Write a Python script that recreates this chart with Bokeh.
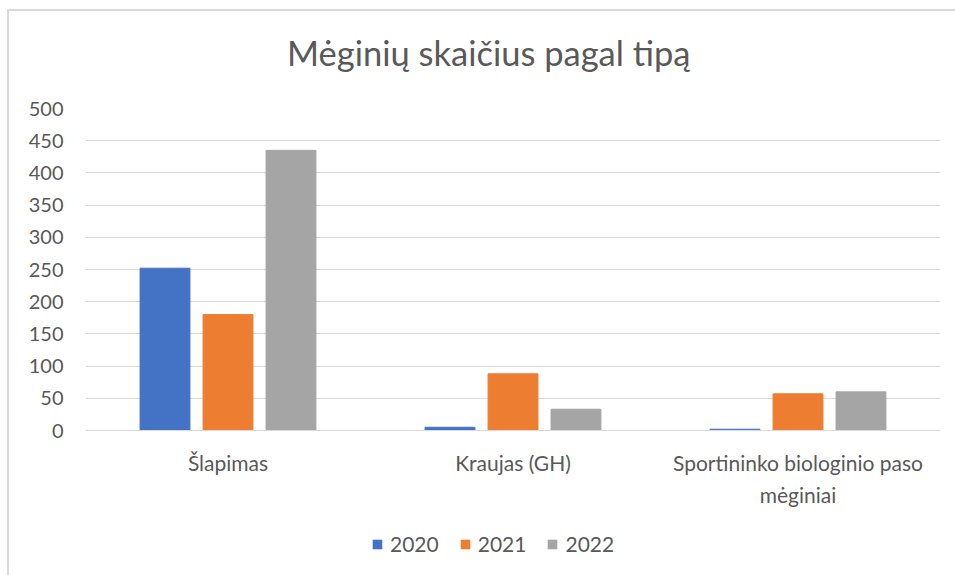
from bokeh.plotting import figure
from bokeh.models import ColumnDataSource, FactorRange, Range1d, FixedTicker, Legend, LegendItem, Div
from bokeh.layouts import column
from bokeh.transform import dodge
from bokeh.embed import file_html
from bokeh.resources import INLINE

categories = ["Šlapimas", "Kraujas (GH)", "Sportininko biologinio paso\nmėginiai"]
series = ["2020", "2021", "2022"]
v2020 = [252, 5, 2]
v2021 = [180, 88, 57]
v2022 = [435, 33, 60]
colors = ["#4472C4", "#ED7D31", "#A5A5A5"]
y_ticks = [0, 50, 100, 150, 200, 250, 300, 350, 400, 450, 500]
title_text = "Mėginių skaičius pagal tipą"

FONT = "Lato"
TXT = "#595959"
GRID = "#d9d9d9"

# title strip
title = Div(text=('<div style="margin:0;padding:21px 0 0 278px;font-family:Lato;'
                  'font-size:34.5px;line-height:42px;color:#595959;white-space:nowrap">'
                  + title_text + '</div>'),
            width=946, height=80, margin=0)

src = ColumnDataSource(data=dict(cat=categories, y2020=v2020, y2021=v2021, y2022=v2022))

p = figure(x_range=FactorRange(*categories), y_range=Range1d(0, 500),
           width=946, height=420, output_backend="svg", toolbar_location=None,
           min_border_left=76, min_border_right=15, min_border_top=17, min_border_bottom=81)
p.outline_line_color = None
p.background_fill_color = "white"
p.border_fill_color = "white"

offs = [-0.221, 0.0, 0.221]
for s, col, off in zip(series, colors, offs):
    p.vbar(x=dodge("cat", off, range=p.x_range), top="y" + s, width=0.175,
           source=src, fill_color=col, line_color=col, line_width=1)

p.xgrid.grid_line_color = None
p.ygrid.ticker = FixedTicker(ticks=y_ticks)
p.ygrid.grid_line_color = GRID
p.ygrid.grid_line_width = 1

p.yaxis.ticker = FixedTicker(ticks=y_ticks)
p.yaxis.axis_line_color = None
p.yaxis.major_tick_line_color = None
p.yaxis.minor_tick_line_color = None
p.yaxis.major_tick_out = 0
p.yaxis.major_label_standoff = 22
p.yaxis.major_label_text_font = FONT
p.yaxis.major_label_text_font_size = "20px"
p.yaxis.major_label_text_color = TXT

p.xaxis.axis_line_color = GRID
p.xaxis.major_tick_line_color = None
p.xaxis.minor_tick_line_color = None
p.xaxis.major_tick_out = 0
p.xaxis.major_label_standoff = 19
p.xaxis.major_label_text_font = FONT
p.xaxis.major_label_text_font_size = "21px"
p.xaxis.major_label_text_color = TXT
p.xaxis.major_label_text_line_height = 1.3

# legend strip below the chart
q = figure(x_range=Range1d(0, 1), y_range=Range1d(0, 1), width=946, height=64,
           output_backend="svg", toolbar_location=None,
           min_border_left=0, min_border_right=0, min_border_top=0, min_border_bottom=0)
q.xaxis.visible = False
q.yaxis.visible = False
q.xgrid.visible = False
q.ygrid.visible = False
q.outline_line_color = None
q.border_fill_color = "white"
q.background_fill_color = "white"
items = []
for s, col in zip(series, colors):
    r = q.vbar(x=[0.5], top=[0], bottom=[0], width=0, fill_color=col, line_color=col, line_alpha=0)
    items.append(LegendItem(label=s, renderers=[r]))

legend = Legend(items=items, orientation="horizontal", location=(286, 19))
legend.glyph_width = 12
legend.glyph_height = 12
legend.label_standoff = 7
legend.spacing = 20
legend.padding = 0
legend.margin = 0
legend.border_line_color = None
legend.background_fill_alpha = 0
legend.label_text_font = FONT
legend.label_text_font_size = "21px"
legend.label_text_color = TXT
legend.label_height = 24
q.add_layout(legend, "center")

layout = column(title, p, q, spacing=0)
layout.styles = {"margin-left": "7px", "margin-top": "9px",
                 "border-left": "2px solid #d9d9d9", "border-top": "2px solid #d9d9d9"}

open("out.html", "w").write(file_html(layout, INLINE))
